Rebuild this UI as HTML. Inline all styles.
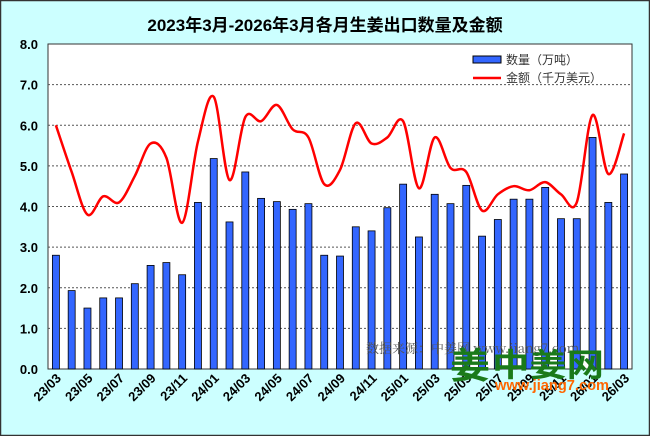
<!DOCTYPE html>
<html><head><meta charset="utf-8"><style>
body{margin:0;width:650px;height:436px;overflow:hidden;background:#ccffff}
svg{display:block}
</style></head><body>
<svg id="s" width="650" height="436" xmlns="http://www.w3.org/2000/svg">
<rect x="0.5" y="0.5" width="649" height="435" fill="#ccffff" stroke="#333" stroke-width="1.5"/>
<text x="325" y="31" text-anchor="middle" font-family="Liberation Sans, Noto Sans CJK SC, sans-serif" font-weight="bold" font-size="17">2023年3月-2026年3月各月生姜出口数量及金额</text>
<rect x="48" y="44" width="584" height="325" fill="#fff" stroke="#333" stroke-width="1"/>
<g id="g"></g>
<text x="366" y="353" font-family="Noto Serif CJK SC, serif" font-size="13" fill="#555">数据来源：中姜网 www.jiang7.com</text>
<g font-family="Liberation Sans, Noto Sans CJK SC, sans-serif">
<rect x="473" y="56" width="28" height="7" fill="#3366ff" stroke="#000" stroke-width="1"/>
<text x="506" y="64" font-size="12" fill="#333">数量（万吨）</text>
<line x1="473" y1="78" x2="501" y2="78" stroke="#f00" stroke-width="2.5"/>
<text x="506" y="82" font-size="12" fill="#333">金额（千万美元）</text>
</g>
<text x="450" y="378" font-family="Noto Sans CJK SC, sans-serif" font-weight="bold" font-size="36" fill="#1a7a1a" textLength="40" lengthAdjust="spacingAndGlyphs">姜</text>
<text x="492" y="376" font-family="Noto Sans CJK SC, sans-serif" font-weight="bold" font-size="32" fill="#1a7a1a" textLength="112" lengthAdjust="spacingAndGlyphs">中姜网</text>
<text x="495" y="390" font-family="Liberation Sans, sans-serif" font-weight="bold" font-size="15" fill="#ff6600" textLength="114" lengthAdjust="spacingAndGlyphs">www.jiang7.com</text>
</svg>
<script>
var bars=[2.8,1.93,1.5,1.75,1.75,2.1,2.55,2.62,2.32,4.1,5.18,3.62,4.85,4.2,4.12,3.93,4.07,2.8,2.78,3.5,3.4,3.97,4.55,3.25,4.3,4.07,4.52,3.27,3.68,4.18,4.18,4.47,3.7,3.7,5.7,4.1,4.8];
var line=[6.0,4.85,3.8,4.25,4.1,4.75,5.55,5.2,3.6,5.6,6.7,4.65,6.2,6.1,6.5,5.9,5.7,4.55,4.9,6.05,5.55,5.7,6.1,4.45,5.7,4.95,4.85,3.9,4.3,4.5,4.4,4.6,4.3,4.1,6.25,4.8,5.8];
var X0=48,W=584,Y0=369,U=40.625,n=37,sw=W/n,h='';
function y(v){return Y0-v*U}
for(var i=1;i<8;i++){h+='<line x1="48" x2="632" y1="'+y(i)+'" y2="'+y(i)+'" stroke="#555" stroke-dasharray="2,2" stroke-width="1"/>';}
for(var i=0;i<=8;i++){h+='<text x="38" y="'+(y(i)+5)+'" text-anchor="end" font-family="Liberation Sans,sans-serif" font-weight="bold" font-size="13">'+i.toFixed(1)+'</text>';}
for(var i=0;i<n;i++){var cx=X0+sw*(i+0.5);
h+='<rect x="'+(cx-3.5)+'" y="'+y(bars[i])+'" width="7" height="'+(bars[i]*U)+'" fill="#3366ff" stroke="#000" stroke-width="0.8"/>';
if(i%2==0){var m=3+i,yr=23+Math.floor((m-1)/12),mo=((m-1)%12)+1;
h+='<text transform="translate('+(cx+6)+',379) rotate(-45)" text-anchor="end" font-family="Liberation Sans,sans-serif" font-weight="bold" font-size="13">'+yr+'/'+(mo<10?'0':'')+mo+'</text>';}}
var p=line.map(function(v,i){return [X0+sw*(i+0.5),y(v)]});
var d='M'+p[0][0]+','+p[0][1];
for(var i=0;i<n-1;i++){var a=p[Math.max(i-1,0)],b=p[i],c=p[i+1],e=p[Math.min(i+2,n-1)];
d+=' C'+(b[0]+(c[0]-a[0])/6)+','+(b[1]+(c[1]-a[1])/6)+' '+(c[0]-(e[0]-b[0])/6)+','+(c[1]-(e[1]-b[1])/6)+' '+c[0]+','+c[1];}
h+='<path d="'+d+'" fill="none" stroke="#f00" stroke-width="2.5"/>';
document.getElementById('g').innerHTML=h;
</script>
</body></html>
